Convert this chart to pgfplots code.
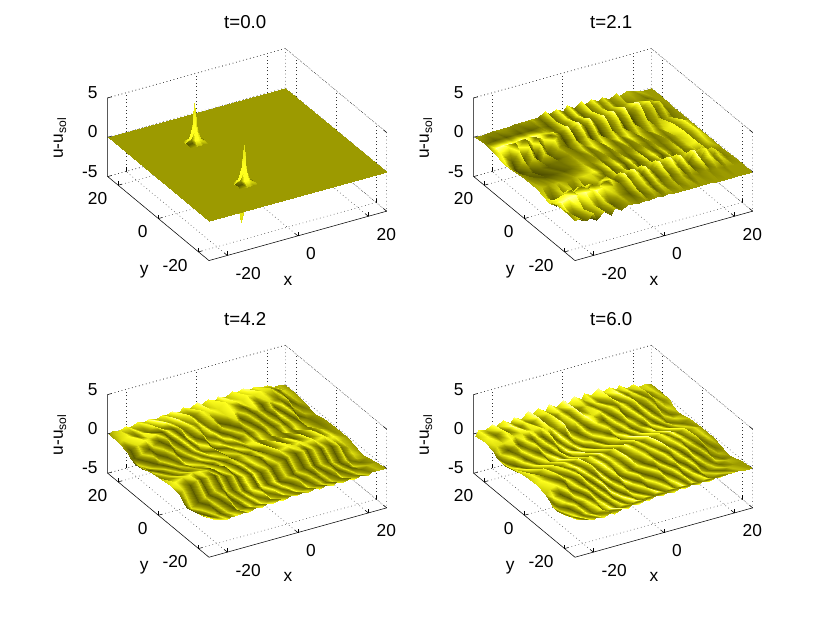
\documentclass[border=0pt]{standalone}
\usepackage{fontspec}
\setmainfont{Liberation Sans}
\usepackage{pgfplots}
\pgfplotsset{compat=1.18}
\newcommand{\backbox}{%
\draw[black!80,line width=0.4pt,dash pattern=on 0.5pt off 2.2pt] (axis cs:-25.2,25.2,5)--(axis cs:25.2,25.2,5)--(axis cs:25.2,-25.2,5) (axis cs:25.2,25.2,5)--(axis cs:25.2,25.2,-5) (axis cs:25.2,-25.2,5)--(axis cs:25.2,-25.2,-5) (axis cs:-25.2,25.2,-5)--(axis cs:25.2,25.2,-5)--(axis cs:25.2,-25.2,-5);
\draw[black,line width=0.4pt] (axis cs:-25.2,25.2,-5)--(axis cs:-25.2,25.2,5) (axis cs:-25.2,25.2,-5)--(axis cs:-25.2,-25.2,-5)--(axis cs:25.2,-25.2,-5);}
\pgfplotsset{
 colormap={lit}{rgb255(0)=(50,50,0); rgb255(3)=(115,115,0); rgb255(5)=(156,154,0); rgb255(7)=(225,225,15); rgb255(8)=(255,255,30); rgb255(9)=(255,255,150)},
 panel/.style={
  anchor=origin, clip=false,
  x={(2.644pt,0.735pt)}, y={(-1.507pt,1.250pt)}, z={(0pt,5.90pt)},
  xmin=-25.2,xmax=25.2,ymin=-25.2,ymax=25.2,zmin=-5,zmax=5,
  xtick={-20,0,20},ytick={-20,0,20},ztick={-5,0,5},
  tickpos=left,
  axis line style={draw=none},
  grid=major, grid style={black!80,line width=0.4pt,dash pattern=on 0.5pt off 2.2pt},
  tick style={black,line width=0.4pt}, tick align=inside, major tick length=3pt,
  /pgf/number format/assume math mode=true,
  ticklabel style={font=\fontsize{13}{13}\selectfont,inner sep=0pt},
  xticklabel style={anchor=west,xshift=6pt,yshift=-13.5pt},
  yticklabel style={anchor=east,xshift=-8pt,yshift=-10pt},
  zticklabel style={anchor=east,xshift=-7.5pt,yshift=4pt},
  xlabel={x},ylabel={y},zlabel={u-u\textsubscript{sol}},
  every axis x label/.style={at={([xshift=-7.4pt,yshift=-33.5pt]axis cs:0,-25.2,-5)},anchor=center,inner sep=0pt,font=\fontsize{13}{13}\selectfont},
  every axis y label/.style={at={([xshift=-10.7pt,yshift=-39.7pt]axis cs:-25.2,0,-5)},anchor=center,inner sep=0pt,font=\fontsize{13}{13}\selectfont},
  every axis z label/.style={at={([xshift=-35.8pt,yshift=-0.6pt]axis cs:-25.2,25.2,0)},anchor=center,rotate=90,inner sep=0pt,font=\fontsize{13}{13}\selectfont},
  title style={at={(axis cs:0,0,0)},anchor=center,font=\fontsize{14}{14}\selectfont,xshift=-1.5pt,yshift=93.3pt},
  point meta min=0,point meta max=9,colormap name=lit,
 },
 lit/.style={surf,shader=interp,point meta=explicit},
}
\begin{document}
\begin{tikzpicture}
\path[use as bounding box] (0,0) rectangle (622.5pt,469.5pt);
\begin{axis}[panel,at={(185.4pt,353.6pt)},title={t=0.0}]
\backbox
\addplot3[lit,mesh/cols=3] table[x=x,y=y,z=z,meta=m]{
x y z m
-12.4 -16 0 5
-11.4 -16 0 5
-10.4 -16 0 5
-12.4 -17 0 7
-11.4 -17 -3.6 7
-10.4 -17 0 6
-12.4 -18 0 8
-11.4 -18 0 8
-10.4 -18 0 6
};
\addplot3[lit,mesh/cols=2] table[x=x,y=y,z=z,meta=m]{
x y z m
-25.2 25.2 0 5
25.2 25.2 0 5
-25.2 -25.2 0 5
25.2 -25.2 0 5
};
\addplot3[lit,mesh/cols=7] table[x=x,y=y,z=z,meta=m]{
x y z m
-10.4 14.7 0 5
-9.2 14.7 0.1 5
-8.5 14.7 0.1 5
-8 14.7 0.1 5
-7.5 14.7 0.1 5
-6.8 14.7 0.1 5
-5.6 14.7 0 5
-10.4 13.5 0.1 5
-9.2 13.5 0.3 5
-8.5 13.5 0.5 4
-8 13.5 0.5 4
-7.5 13.5 0.5 3
-6.8 13.5 0.3 3
-5.6 13.5 0.1 5
-10.4 12.8 0.1 7
-9.2 12.8 0.5 8
-8.5 12.8 1.4 7
-8 12.8 2.2 6
-7.5 12.8 1.4 5
-6.8 12.8 0.5 3
-5.6 12.8 0.1 4
-10.4 12.3 0.1 2
-9.2 12.3 0.5 8
-8.5 12.3 2.2 8
-8 12.3 5 7
-7.5 12.3 2.2 5
-6.8 12.3 0.5 3
-5.6 12.3 0.1 3
-10.4 11.8 0.1 2
-9.2 11.8 0.5 4
-8.5 11.8 1.4 8
-8 11.8 2.2 8
-7.5 11.8 1.4 7
-6.8 11.8 0.5 6
-5.6 11.8 0.1 6
-10.4 11.1 0.1 2
-9.2 11.1 0.3 2
-8.5 11.1 0.5 8
-8 11.1 0.5 8
-7.5 11.1 0.5 8
-6.8 11.1 0.3 7
-5.6 11.1 0.1 6
-10.4 9.9 0 5
-9.2 9.9 0.1 5
-8.5 9.9 0.1 6
-8 9.9 0.1 6
-7.5 9.9 0.1 6
-6.8 9.9 0.1 5
-5.6 9.9 0 5
};
\addplot3[lit,mesh/cols=7] table[x=x,y=y,z=z,meta=m]{
x y z m
-10.4 -9.9 0 5
-9.2 -9.9 0.1 5
-8.5 -9.9 0.1 5
-8 -9.9 0.1 5
-7.5 -9.9 0.1 5
-6.8 -9.9 0.1 5
-5.6 -9.9 0 5
-10.4 -11.1 0.1 5
-9.2 -11.1 0.3 5
-8.5 -11.1 0.5 4
-8 -11.1 0.5 4
-7.5 -11.1 0.5 3
-6.8 -11.1 0.3 3
-5.6 -11.1 0.1 5
-10.4 -11.8 0.1 7
-9.2 -11.8 0.5 8
-8.5 -11.8 1.4 7
-8 -11.8 2.2 6
-7.5 -11.8 1.4 5
-6.8 -11.8 0.5 3
-5.6 -11.8 0.1 4
-10.4 -12.3 0.1 2
-9.2 -12.3 0.5 8
-8.5 -12.3 2.2 8
-8 -12.3 4.8 7
-7.5 -12.3 2.2 5
-6.8 -12.3 0.5 3
-5.6 -12.3 0.1 3
-10.4 -12.8 0.1 2
-9.2 -12.8 0.5 4
-8.5 -12.8 1.4 8
-8 -12.8 2.2 8
-7.5 -12.8 1.4 7
-6.8 -12.8 0.5 6
-5.6 -12.8 0.1 6
-10.4 -13.5 0.1 2
-9.2 -13.5 0.3 2
-8.5 -13.5 0.5 8
-8 -13.5 0.5 8
-7.5 -13.5 0.5 8
-6.8 -13.5 0.3 7
-5.6 -13.5 0.1 6
-10.4 -14.7 0 5
-9.2 -14.7 0.1 5
-8.5 -14.7 0.1 6
-8 -14.7 0.1 6
-7.5 -14.7 0.1 6
-6.8 -14.7 0.1 5
-5.6 -14.7 0 5
};
\end{axis}
\begin{axis}[panel,at={(459.9pt,353.6pt)},title={t=2.1}]
\backbox
\addplot3[lit,mesh/cols=31] table[x=x,y=y,z=z,meta=m]{
x y z m
-25 25 0 5
-24 25 .1 5
-22 25 .1 4
-20 25 .2 4
-19 25 .2 5
-17 25 .2 5
-15 25 .2 4
-14 25 .3 4
-12 25 .3 5
-10 25 .3 5
-9 25 .4 6
-7 25 .4 3
-5 25 .8 8
-4 25 .3 3
-2 25 .8 8
0 25 .3 3
1 25 .9 8
3 25 .3 3
5 25 .9 8
6 25 .3 3
8 25 .8 8
10 25 .3 4
11 25 .7 7
13 25 .2 4
15 25 .6 7
16 25 .2 5
18 25 .5 6
20 25 .3 5
21 25 .2 6
23 25 .1 5
25 25 0 5
-25 20 .2 4
-24 20 .2 3
-22 20 .3 2
-20 20 .3 3
-19 20 .3 2
-17 20 .4 3
-15 20 .4 2
-14 20 .4 3
-12 20 .4 2
-10 20 .5 3
-9 20 .4 4
-7 20 .2 2
-5 20 .6 7
-4 20 .1 2
-2 20 .7 8
0 20 .1 2
1 20 .7 8
3 20 .1 2
5 20 .7 8
6 20 .1 2
8 20 .7 7
10 20 .1 3
11 20 .6 7
13 20 .1 3
15 20 .5 6
16 20 .2 3
18 20 .4 5
20 20 .3 4
21 20 .3 3
23 20 .2 5
25 20 .1 5
-25 16 .1 6
-24 16 .4 9
-22 16 .6 9
-20 16 .6 9
-19 16 .6 8
-17 16 .7 9
-15 16 .7 8
-14 16 .7 9
-12 16 .7 8
-10 16 .6 7
-9 16 .6 6
-7 16 .5 3
-5 16 1 8
-4 16 .4 3
-2 16 1.1 8
0 16 .4 2
1 16 1.1 8
3 16 .4 2
5 16 1.2 8
6 16 .4 2
8 16 1.2 8
10 16 .3 2
11 16 1.3 8
13 16 .3 2
15 16 1.4 9
16 16 .3 2
18 16 1.2 8
20 16 .3 3
21 16 .8 7
23 16 .2 4
25 16 .1 5
-25 14 -.1 7
-24 14 .2 8
-22 14 .7 8
-20 14 1 3
-19 14 .3 8
-17 14 1.1 3
-15 14 .4 8
-14 14 1 3
-12 14 .5 8
-10 14 .8 3
-9 14 1 8
-7 14 .5 2
-5 14 1.3 9
-4 14 .5 2
-2 14 1.4 9
0 14 .5 2
1 14 1.5 9
3 14 .4 2
5 14 1.5 9
6 14 .3 2
8 14 1.6 9
10 14 .2 2
11 14 1.7 9
13 14 .1 1
15 14 1.8 9
16 14 0 1
18 14 1.6 8
20 14 0 2
21 14 1.2 7
23 14 -.1 3
25 14 0 5
-25 12 -.2 7
-24 12 -.4 8
-22 12 -.8 2
-20 12 .4 8
-19 12 -1 1
-17 12 .5 8
-15 12 -1 1
-14 12 .5 8
-12 12 -.8 2
-10 12 .5 8
-9 12 .9 5
-7 12 0 1
-5 12 .9 8
-4 12 0 1
-2 12 1 8
0 12 -.1 1
1 12 1.1 8
3 12 -.2 1
5 12 1.1 8
6 12 -.3 1
8 12 1.2 8
10 12 -.4 1
11 12 1.3 8
13 12 -.5 1
15 12 1.4 8
16 12 -.6 1
18 12 1.3 7
20 12 -.5 2
21 12 .9 7
23 12 -.3 3
25 12 0 5
-25 10 -.3 7
-24 10 -.9 7
-22 10 -1.6 1
-20 10 -.3 7
-19 10 -2 1
-17 10 -.3 7
-15 10 -1.9 1
-14 10 -.2 7
-12 10 -1.3 1
-10 10 0 6
-9 10 .2 4
-7 10 -.3 2
-5 10 .3 7
-4 10 -.4 2
-2 10 .3 7
0 10 -.5 1
1 10 .4 7
3 10 -.6 1
5 10 .4 7
6 10 -.7 1
8 10 .4 7
10 10 -.8 1
11 10 .5 7
13 10 -.9 1
15 10 .5 7
16 10 -1 1
18 10 .4 6
20 10 -.8 2
21 10 .2 6
23 10 -.5 3
25 10 0 5
-25 6 -.2 5
-24 6 -.6 4
-22 6 -1.2 2
-20 6 -1 3
-19 6 -1.4 1
-17 6 -.9 3
-15 6 -1 2
-14 6 -.6 3
-12 6 -.6 3
-10 6 -.2 4
-9 6 -.1 5
-7 6 .1 3
-5 6 -.1 7
-4 6 .2 3
-2 6 -.1 8
0 6 .2 3
1 6 -.1 8
3 6 .2 3
5 6 -.1 8
6 6 .2 3
8 6 -.1 8
10 6 .1 3
11 6 -.2 7
13 6 .1 3
15 6 -.3 7
16 6 .1 4
18 6 -.4 7
20 6 .2 8
21 6 -.6 2
23 6 .4 8
25 6 0 5
-25 0 0 5
-24 0 -.1 4
-22 0 -.3 3
-20 0 -.4 2
-19 0 -.5 2
-17 0 -.4 2
-15 0 -.4 3
-14 0 -.3 2
-12 0 -.2 3
-10 0 -.1 5
-9 0 0 6
-7 0 .1 4
-5 0 .2 5
-4 0 .1 3
-2 0 .2 5
0 0 .1 3
1 0 .2 5
3 0 .1 3
5 0 .2 5
6 0 .1 3
8 0 .2 5
10 0 .1 3
11 0 .2 5
13 0 .1 3
15 0 .2 5
16 0 .1 3
18 0 .1 6
20 0 .5 8
21 0 -.3 2
23 0 .6 8
25 0 0 5
-25 -6 0 6
-24 -6 .1 6
-22 -6 .1 5
-20 -6 0 6
-19 -6 .1 6
-17 -6 0 5
-15 -6 0 5
-14 -6 .1 6
-12 -6 .1 7
-10 -6 .2 7
-9 -6 .3 8
-7 -6 .2 3
-5 -6 .3 8
-4 -6 .1 2
-2 -6 .3 8
0 -6 .1 2
1 -6 .4 8
3 -6 .1 2
5 -6 .4 8
6 -6 .1 2
8 -6 .4 8
10 -6 .1 2
11 -6 .4 7
13 -6 .1 3
15 -6 .4 7
16 -6 .1 3
18 -6 .3 7
20 -6 .5 8
21 -6 -.4 2
23 -6 .3 7
25 -6 0 5
-25 -10 -.3 7
-24 -10 -1 7
-22 -10 -1.7 1
-20 -10 -.3 7
-19 -10 -2.1 1
-17 -10 -.4 7
-15 -10 -1.8 1
-14 -10 -.2 7
-12 -10 -1.2 1
-10 -10 0 6
-9 -10 .2 4
-7 -10 -.3 2
-5 -10 .3 7
-4 -10 -.4 2
-2 -10 .4 7
0 -10 -.5 1
1 -10 .4 7
3 -10 -.6 1
5 -10 .5 7
6 -10 -.7 1
8 -10 .5 7
10 -10 -.8 1
11 -10 .5 7
13 -10 -.9 1
15 -10 .5 7
16 -10 -1 1
18 -10 .4 6
20 -10 -.8 2
21 -10 .2 6
23 -10 -.5 3
25 -10 0 5
-25 -12 -.2 7
-24 -12 -.3 8
-22 -12 -.8 2
-20 -12 .5 8
-19 -12 -.9 1
-17 -12 .5 8
-15 -12 -1 1
-14 -12 .6 8
-12 -12 -.7 2
-10 -12 .5 8
-9 -12 .9 5
-7 -12 0 1
-5 -12 1 8
-4 -12 0 1
-2 -12 1 8
0 -12 -.1 1
1 -12 1.1 8
3 -12 -.2 1
5 -12 1.2 8
6 -12 -.3 1
8 -12 1.2 8
10 -12 -.4 1
11 -12 1.3 8
13 -12 -.5 1
15 -12 1.3 8
16 -12 -.6 1
18 -12 1.2 7
20 -12 -.5 2
21 -12 .9 7
23 -12 -.3 3
25 -12 0 5
-25 -14 -.1 7
-24 -14 .2 8
-22 -14 .7 8
-20 -14 1 3
-19 -14 .4 8
-17 -14 1.1 3
-15 -14 .4 8
-14 -14 1 3
-12 -14 .5 8
-10 -14 .8 3
-9 -14 1 8
-7 -14 .5 2
-5 -14 1.3 9
-4 -14 .5 2
-2 -14 1.4 9
0 -14 .5 2
1 -14 1.4 9
3 -14 .4 2
5 -14 1.5 9
6 -14 .3 2
8 -14 1.6 9
10 -14 .2 2
11 -14 1.6 9
13 -14 .1 1
15 -14 1.7 9
16 -14 0 1
18 -14 1.5 8
20 -14 0 2
21 -14 1.1 7
23 -14 -.1 3
25 -14 0 5
-25 -16 .1 6
-24 -16 .4 9
-22 -16 .6 9
-20 -16 .7 9
-19 -16 .6 8
-17 -16 .7 9
-15 -16 .7 8
-14 -16 .6 9
-12 -16 .7 8
-10 -16 .6 7
-9 -16 .5 6
-7 -16 .5 3
-5 -16 1 8
-4 -16 .4 3
-2 -16 1 8
0 -16 .4 2
1 -16 1.1 8
3 -16 .4 2
5 -16 1.1 8
6 -16 .4 2
8 -16 1.2 8
10 -16 .3 2
11 -16 1.2 8
13 -16 .3 2
15 -16 1.3 9
16 -16 .3 2
18 -16 1.1 8
20 -16 .3 3
21 -16 .7 7
23 -16 .2 4
25 -16 .1 5
-25 -20 .2 4
-24 -20 -.4 7
-22 -20 -1.2 1
-20 -20 -.2 7
-19 -20 -1.3 1
-17 -20 -.1 7
-15 -20 -1 2
-14 -20 .1 7
-12 -20 -.5 2
-10 -20 .3 6
-9 -20 .3 4
-7 -20 .2 2
-5 -20 .5 7
-4 -20 .1 2
-2 -20 .6 7
0 -20 .1 2
1 -20 .6 7
3 -20 .1 3
5 -20 .5 6
6 -20 .1 3
8 -20 .5 6
10 -20 .1 3
11 -20 .4 5
13 -20 .1 4
15 -20 .4 5
16 -20 .1 4
18 -20 .3 5
20 -20 .2 4
21 -20 .2 5
23 -20 .1 5
25 -20 .1 5
-25 -25 0 5
-24 -25 .2 7
-22 -25 -.4 2
-20 -25 .3 7
-19 -25 -.6 1
-17 -25 .2 7
-15 -25 -.5 2
-14 -25 .3 6
-12 -25 -.3 3
-10 -25 .2 5
-9 -25 .1 5
-7 -25 0 4
-5 -25 .1 5
-4 -25 0 4
-2 -25 .1 5
0 -25 0 4
1 -25 .1 5
3 -25 0 5
5 -25 .1 5
6 -25 0 5
8 -25 .1 5
10 -25 0 5
11 -25 .1 5
13 -25 0 5
15 -25 0 5
16 -25 0 5
18 -25 0 5
20 -25 0 5
21 -25 0 5
23 -25 0 5
25 -25 0 5
};
\end{axis}
\begin{axis}[panel,at={(185.4pt,131.1pt)},title={t=4.2}]
\backbox
\addplot3[lit,mesh/cols=31] table[x=x,y=y,z=z,meta=m]{
x y z m
-25 25 0 5
-24 25 .2 6
-22 25 .1 7
-20 25 .4 8
-19 25 .2 6
-17 25 .5 8
-15 25 .3 6
-14 25 .6 9
-12 25 .3 6
-10 25 .6 8
-9 25 .4 6
-7 25 .7 9
-5 25 .3 6
-4 25 .8 8
-2 25 .4 6
0 25 .9 9
1 25 .5 6
3 25 1 8
5 25 .6 6
6 25 1 9
8 25 .6 6
10 25 1.1 8
11 25 .8 7
13 25 1.1 9
15 25 .8 6
16 25 .9 8
18 25 .6 7
20 25 .6 7
21 25 .3 5
23 25 .2 6
25 25 0 5
-25 20 -.1 6
-24 20 .2 7
-22 20 .4 8
-20 20 .2 3
-19 20 .6 8
-17 20 .3 3
-15 20 .8 8
-14 20 .4 4
-12 20 1 9
-10 20 .6 5
-9 20 1.1 9
-7 20 .6 5
-5 20 1 8
-4 20 .7 3
-2 20 1.2 8
0 20 .7 7
1 20 .9 8
3 20 .8 7
5 20 1.4 8
6 20 1.1 7
8 20 1.2 8
10 20 1 7
11 20 1.5 8
13 20 1.3 7
15 20 1.6 8
16 20 1.4 7
18 20 1.5 7
20 20 1.1 2
21 20 1 7
23 20 .5 6
25 20 .1 5
-25 16 -.4 4
-24 16 -.3 2
-22 16 .1 7
-20 16 .5 8
-19 16 .7 7
-17 16 .9 8
-15 16 .9 2
-14 16 1.1 8
-12 16 .9 2
-10 16 .8 7
-9 16 .5 3
-7 16 .8 8
-5 16 .4 4
-4 16 .5 8
-2 16 0 3
0 16 .3 7
1 16 .1 2
3 16 .8 7
5 16 1 8
6 16 1 7
8 16 1.2 2
10 16 1 7
11 16 1.1 8
13 16 1 2
15 16 1.1 7
16 16 1 7
18 16 1 3
20 16 .9 7
21 16 .5 2
23 16 .3 6
25 16 -.1 5
-25 14 -.8 3
-24 14 -.9 2
-22 14 -.6 7
-20 14 -.2 2
-19 14 .1 7
-17 14 .4 2
-15 14 .6 7
-14 14 .4 2
-12 14 .3 8
-10 14 .1 2
-9 14 0 8
-7 14 -.3 2
-5 14 0 7
-4 14 -.5 3
-2 14 -.3 8
0 14 -.5 2
1 14 -.2 7
3 14 0 2
5 14 .4 7
6 14 .5 2
8 14 .8 7
10 14 .7 2
11 14 .9 7
13 14 .7 2
15 14 .7 7
16 14 .6 2
18 14 .7 8
20 14 .3 2
21 14 .1 6
23 14 -.1 3
25 14 -.2 5
-25 12 -1 2
-24 12 -1.3 7
-22 12 -1 2
-20 12 -.7 7
-19 12 -.5 2
-17 12 -.2 7
-15 12 0 2
-14 12 -.2 7
-12 12 -.3 2
-10 12 -.5 8
-9 12 -.4 2
-7 12 -.8 8
-5 12 -.5 2
-4 12 -.9 7
-2 12 -.6 3
0 12 -.8 8
1 12 -.5 2
3 12 -.4 7
5 12 -.2 2
6 12 0 7
8 12 .1 2
10 12 .1 7
11 12 .2 2
13 12 .1 7
15 12 .1 2
16 12 .2 8
18 12 0 2
20 12 -.2 7
21 12 -.5 2
23 12 -.5 6
25 12 -.4 4
-25 10 -.9 6
-24 10 -1.4 2
-22 10 -1.5 7
-20 10 -1.3 2
-19 10 -1 7
-17 10 -.8 2
-15 10 -.6 7
-14 10 -.8 2
-12 10 -.9 7
-10 10 -1 3
-9 10 -.8 8
-7 10 -1.2 3
-5 10 -.8 8
-4 10 -1.2 2
-2 10 -.9 8
0 10 -1.1 3
1 10 -.7 8
3 10 -.8 2
5 10 -.6 7
6 10 -.6 2
8 10 -.5 7
10 10 -.5 2
11 10 -.4 7
13 10 -.5 2
15 10 -.5 7
16 10 -.5 2
18 10 -.7 7
20 10 -.7 2
21 10 -.9 6
23 10 -.8 3
25 10 -.5 5
-25 6 -.5 5
-24 6 -.9 7
-22 6 -1 2
-20 6 -1 7
-19 6 -.8 2
-17 6 -.9 7
-15 6 -1 3
-14 6 -1.1 8
-12 6 -.9 3
-10 6 -1 8
-9 6 -.7 3
-7 6 -.9 8
-5 6 -.6 3
-4 6 -.9 7
-2 6 -.6 3
0 6 -.8 8
1 6 -.5 3
3 6 -.7 7
5 6 -.6 8
6 6 -.5 3
8 6 -.8 8
10 6 -.5 3
11 6 -.8 7
13 6 -.5 3
15 6 -.9 8
16 6 -.5 3
18 6 -.9 8
20 6 -.6 3
21 6 -.8 7
23 6 -.4 3
25 6 -.2 5
-25 0 -.3 6
-24 0 -.5 3
-22 0 -.4 7
-20 0 -.5 3
-19 0 -.3 7
-17 0 -.4 3
-15 0 -.3 6
-14 0 -.4 3
-12 0 -.2 7
-10 0 -.4 2
-9 0 -.1 7
-7 0 -.4 2
-5 0 -.2 7
-4 0 -.5 2
-2 0 -.1 7
0 0 -.4 2
1 0 0 7
3 0 -.3 2
5 0 .2 8
6 0 -.2 2
8 0 .3 8
10 0 -.1 2
11 0 .3 8
13 0 0 2
15 0 .3 8
16 0 -.1 2
18 0 .4 8
20 0 0 3
21 0 .2 7
23 0 -.1 4
25 0 0 5
-25 -6 0 7
-24 -6 .4 8
-22 -6 .7 7
-20 -6 .8 8
-19 -6 1 7
-17 -6 .9 8
-15 -6 .7 7
-14 -6 .9 2
-12 -6 .4 8
-10 -6 .6 2
-9 -6 .2 8
-7 -6 .4 2
-5 -6 .1 8
-4 -6 .3 3
-2 -6 .2 8
0 -6 .5 2
1 -6 .5 8
3 -6 .6 3
5 -6 .9 8
6 -6 .7 7
8 -6 1 8
10 -6 .8 7
11 -6 1.1 8
13 -6 .8 7
15 -6 1 8
16 -6 .7 7
18 -6 .9 8
20 -6 .5 7
21 -6 .6 8
23 -6 .2 6
25 -6 0 5
-25 -10 -.2 4
-24 -10 .2 7
-22 -10 .6 2
-20 -10 .9 7
-19 -10 1 2
-17 -10 1 7
-15 -10 1 2
-14 -10 .8 7
-12 -10 .5 2
-10 -10 .3 7
-9 -10 .1 2
-7 -10 -.1 8
-5 -10 -.1 2
-4 -10 -.2 8
-2 -10 -.3 2
0 -10 -.2 7
1 -10 0 2
3 -10 .2 7
5 -10 .5 2
6 -10 .7 7
8 -10 .9 2
10 -10 .9 7
11 -10 1 2
13 -10 .8 7
15 -10 .7 2
16 -10 .7 7
18 -10 .5 2
20 -10 .4 7
21 -10 .1 3
23 -10 -.2 6
25 -10 -.3 5
-25 -12 -.8 3
-24 -12 -.6 7
-22 -12 -.1 2
-20 -12 .2 7
-19 -12 .5 2
-17 -12 .4 7
-15 -12 .5 2
-14 -12 .2 7
-12 -12 -.1 2
-10 -12 -.3 7
-9 -12 -.4 2
-7 -12 -.6 8
-5 -12 -.5 2
-4 -12 -.6 8
-2 -12 -.7 2
0 -12 -.5 7
1 -12 -.5 2
3 -12 -.2 7
5 -12 0 2
6 -12 .2 7
8 -12 .3 2
10 -12 .3 7
11 -12 .4 2
13 -12 .2 7
15 -12 .2 2
16 -12 .2 7
18 -12 -.1 2
20 -12 -.2 7
21 -12 -.5 3
23 -12 -.6 7
25 -12 -.5 5
-25 -14 -1.1 2
-24 -14 -1.2 7
-22 -14 -.7 2
-20 -14 -.4 7
-19 -14 -.1 2
-17 -14 0 7
-15 -14 0 2
-14 -14 -.3 7
-12 -14 -.5 2
-10 -14 -.8 7
-9 -14 -.9 2
-7 -14 -1 8
-5 -14 -.9 2
-4 -14 -1 8
-2 -14 -1 2
0 -14 -.9 8
1 -14 -.9 2
3 -14 -.6 7
5 -14 -.5 2
6 -14 -.3 7
8 -14 -.2 2
10 -14 -.2 7
11 -14 -.2 2
13 -14 -.3 7
15 -14 -.3 2
16 -14 -.4 7
18 -14 -.6 2
20 -14 -.7 7
21 -14 -.8 3
23 -14 -.7 6
25 -14 -.6 5
-25 -16 -1 6
-24 -16 -1.4 2
-22 -16 -1.3 7
-20 -16 -1 2
-19 -16 -.7 7
-17 -16 -.6 2
-15 -16 -.6 7
-14 -16 -.8 2
-12 -16 -1 7
-10 -16 -1.2 3
-9 -16 -1.2 8
-7 -16 -1.4 3
-5 -16 -1.2 8
-4 -16 -1.3 3
-2 -16 -1.2 8
0 -16 -1.3 3
1 -16 -1.1 8
3 -16 -1 2
5 -16 -.8 7
6 -16 -.8 2
8 -16 -.6 7
10 -16 -.7 2
11 -16 -.6 7
13 -16 -.8 2
15 -16 -.8 7
16 -16 -.9 2
18 -16 -1 7
20 -16 -1.1 2
21 -16 -1.1 7
23 -16 -.8 3
25 -16 -.5 5
-25 -20 -.6 7
-24 -20 -1 5
-22 -20 -1.3 2
-20 -20 -1.4 7
-19 -20 -1.2 2
-17 -20 -1.4 7
-15 -20 -1.3 2
-14 -20 -1.5 7
-12 -20 -1.4 2
-10 -20 -1.6 8
-9 -20 -1.3 3
-7 -20 -1.6 8
-5 -20 -1.2 3
-4 -20 -1.5 8
-2 -20 -1.1 3
0 -20 -1.4 8
1 -20 -1 3
3 -20 -1.3 8
5 -20 -1 3
6 -20 -1.2 8
8 -20 -1 3
10 -20 -1.2 7
11 -20 -1 3
13 -20 -1.3 7
15 -20 -1 3
16 -20 -1.3 8
18 -20 -.9 3
20 -20 -1.1 7
21 -20 -.6 3
23 -20 -.4 6
25 -20 -.2 5
-25 -25 0 7
-24 -25 -.3 8
-22 -25 -.6 7
-20 -25 -.8 8
-19 -25 -.7 4
-17 -25 -.7 8
-15 -25 -.5 4
-14 -25 -.7 8
-12 -25 -.4 4
-10 -25 -.6 8
-9 -25 -.3 4
-7 -25 -.4 8
-5 -25 -.2 4
-4 -25 -.4 8
-2 -25 -.1 4
0 -25 -.3 8
1 -25 -.1 3
3 -25 -.3 7
5 -25 0 4
6 -25 -.2 8
8 -25 0 3
10 -25 -.2 8
11 -25 0 3
13 -25 -.2 7
15 -25 0 3
16 -25 -.2 8
18 -25 0 3
20 -25 -.2 7
21 -25 .1 4
23 -25 0 6
25 -25 0 5
};
\end{axis}
\begin{axis}[panel,at={(459.9pt,131.1pt)},title={t=6.0}]
\backbox
\addplot3[lit,mesh/cols=31] table[x=x,y=y,z=z,meta=m]{
x y z m
-25 25 -.2 6
-24 25 .4 8
-22 25 .1 6
-20 25 .7 9
-19 25 .3 6
-17 25 .8 8
-15 25 .2 5
-14 25 .8 9
-12 25 .3 6
-10 25 1 9
-9 25 .4 6
-7 25 1.1 8
-5 25 .5 6
-4 25 1.2 9
-2 25 .6 6
0 25 1.2 9
1 25 .6 7
3 25 1.4 9
5 25 .7 6
6 25 1.3 8
8 25 .8 7
10 25 1.5 9
11 25 .9 7
13 25 1.3 8
15 25 .7 6
16 25 1.1 8
18 25 .5 6
20 25 .8 8
21 25 .3 6
23 25 .4 7
25 25 .1 5
-25 20 .1 7
-24 20 .5 8
-22 20 .6 3
-20 20 1 8
-19 20 .7 3
-17 20 1.1 9
-15 20 .7 3
-14 20 1.2 8
-12 20 .8 3
-10 20 1.3 9
-9 20 .8 3
-7 20 1.5 8
-5 20 .9 3
-4 20 1.3 8
-2 20 1 3
0 20 1.4 9
1 20 1 3
3 20 1.2 7
5 20 1 3
6 20 1.3 8
8 20 1 3
10 20 1.5 8
11 20 1.1 3
13 20 1.6 9
15 20 1.2 3
16 20 1.4 8
18 20 1 3
20 20 1 7
21 20 .6 3
23 20 .6 7
25 20 .2 5
-25 16 -.3 5
-24 16 .2 7
-22 16 .4 7
-20 16 .7 8
-19 16 .9 7
-17 16 1 7
-15 16 1.1 8
-14 16 1.1 7
-12 16 1.2 8
-10 16 .7 7
-9 16 .8 8
-7 16 .3 4
-5 16 .8 9
-4 16 .1 3
-2 16 .7 8
0 16 .2 3
1 16 .9 9
3 16 .8 7
5 16 1.1 8
6 16 1.1 3
8 16 1.3 8
10 16 1.2 3
11 16 1.4 8
13 16 1.1 3
15 16 1.2 8
16 16 1 3
18 16 1.1 7
20 16 .8 3
21 16 .6 7
23 16 .2 4
25 16 .1 6
-25 14 -.7 3
-24 14 -.3 7
-22 14 -.1 2
-20 14 .3 7
-19 14 .3 2
-17 14 .6 8
-15 14 .5 2
-14 14 .7 8
-12 14 .3 2
-10 14 .3 8
-9 14 -.1 2
-7 14 -.2 9
-5 14 -.4 2
-4 14 -.5 8
-2 14 -.4 2
0 14 -.4 8
1 14 -.1 2
3 14 .2 8
5 14 .4 2
6 14 .7 8
8 14 .5 2
10 14 .8 8
11 14 .4 2
13 14 .7 8
15 14 .3 2
16 14 .6 8
18 14 .1 2
20 14 .2 7
21 14 -.1 3
23 14 -.2 7
25 14 -.3 6
-25 12 -.8 7
-24 12 -.9 3
-22 12 -.6 8
-20 12 -.5 3
-19 12 -.2 8
-17 12 -.1 3
-15 12 .1 8
-14 12 -.1 3
-12 12 -.1 8
-10 12 -.4 3
-9 12 -.5 8
-7 12 -.9 3
-5 12 -1 8
-4 12 -1 3
-2 12 -1 8
0 12 -.8 3
1 12 -.6 8
3 12 -.4 3
5 12 -.1 8
6 12 0 3
8 12 .1 8
10 12 -.1 3
11 12 0 8
13 12 -.1 3
15 12 -.1 8
16 12 -.2 3
18 12 -.3 8
20 12 -.5 3
21 12 -.6 7
23 12 -.7 3
25 12 -.5 6
-25 10 -.9 3
-24 10 -1.1 8
-22 10 -1.2 2
-20 10 -1 8
-19 10 -.8 2
-17 10 -.6 8
-15 10 -.5 2
-14 10 -.6 8
-12 10 -.7 2
-10 10 -.9 8
-9 10 -1.1 2
-7 10 -1.2 9
-5 10 -1.3 2
-4 10 -1.2 9
-2 10 -1.3 2
0 10 -1 8
1 10 -1 2
3 10 -.7 8
5 10 -.6 2
6 10 -.5 8
8 10 -.5 2
10 10 -.5 8
11 10 -.5 2
13 10 -.5 7
15 10 -.6 2
16 10 -.7 8
18 10 -.8 2
20 10 -.9 7
21 10 -1 3
23 10 -.8 7
25 10 -.5 5
-25 6 -.4 7
-24 6 -.9 3
-22 6 -.8 8
-20 6 -1 3
-19 6 -.7 8
-17 6 -.9 3
-15 6 -.7 8
-14 6 -1 3
-12 6 -.8 9
-10 6 -1 3
-9 6 -.9 8
-7 6 -1.1 3
-5 6 -.8 9
-4 6 -1 3
-2 6 -.8 8
0 6 -1 3
1 6 -.6 8
3 6 -.8 3
5 6 -.4 8
6 6 -.6 3
8 6 -.3 9
10 6 -.6 3
11 6 -.3 8
13 6 -.7 3
15 6 -.4 9
16 6 -.7 3
18 6 -.5 8
20 6 -.8 3
21 6 -.6 7
23 6 -.5 3
25 6 -.2 6
-25 0 -.1 6
-24 0 .2 8
-22 0 -.1 3
-20 0 .3 8
-19 0 0 3
-17 0 .4 8
-15 0 0 3
-14 0 .4 8
-12 0 .1 3
-10 0 .4 9
-9 0 0 3
-7 0 .2 8
-5 0 0 3
-4 0 .3 9
-2 0 0 3
0 0 .4 8
1 0 .1 3
3 0 .5 9
5 0 .3 3
6 0 .7 8
8 0 .3 3
10 0 .7 9
11 0 .3 3
13 0 .7 8
15 0 .3 3
16 0 .6 9
18 0 .2 3
20 0 .5 8
21 0 .1 4
23 0 .2 7
25 0 0 5
-25 -6 .1 7
-24 -6 .6 8
-22 -6 .7 3
-20 -6 1 8
-19 -6 .9 3
-17 -6 1.1 8
-15 -6 .9 3
-14 -6 1 9
-12 -6 .7 3
-10 -6 .9 8
-9 -6 .5 3
-7 -6 .7 9
-5 -6 .4 3
-4 -6 .7 8
-2 -6 .5 3
0 -6 .8 9
1 -6 .6 3
3 -6 1 8
5 -6 .9 3
6 -6 1.2 8
8 -6 .9 3
10 -6 1.2 9
11 -6 1 3
13 -6 1.1 8
15 -6 .9 3
16 -6 1 8
18 -6 .7 3
20 -6 .7 7
21 -6 .3 3
23 -6 .3 7
25 -6 0 5
-25 -10 -.2 6
-24 -10 .3 7
-22 -10 .6 8
-20 -10 .8 2
-19 -10 1 8
-17 -10 .8 2
-15 -10 .9 8
-14 -10 .6 2
-12 -10 .5 8
-10 -10 .1 2
-9 -10 .1 9
-7 -10 -.3 2
-5 -10 -.1 8
-4 -10 -.4 2
-2 -10 -.1 8
0 -10 -.3 2
1 -10 .2 8
3 -10 .2 2
5 -10 .6 8
6 -10 .6 2
8 -10 .9 8
10 -10 .7 2
11 -10 .9 8
13 -10 .6 2
15 -10 .7 8
16 -10 .4 2
18 -10 .4 7
20 -10 .1 2
21 -10 0 6
23 -10 -.2 3
25 -10 -.3 5
-25 -12 -.6 3
-24 -12 -.3 8
-22 -12 -.2 2
-20 -12 .1 8
-19 -12 .1 2
-17 -12 .3 8
-15 -12 .1 2
-14 -12 .2 8
-12 -12 -.1 2
-10 -12 -.3 9
-9 -12 -.5 2
-7 -12 -.6 8
-5 -12 -.7 2
-4 -12 -.6 9
-2 -12 -.7 2
0 -12 -.4 8
1 -12 -.3 2
3 -12 0 8
5 -12 .1 2
6 -12 .3 8
8 -12 .1 2
10 -12 .2 8
11 -12 .1 2
13 -12 .2 8
15 -12 0 2
16 -12 0 8
18 -12 -.2 2
20 -12 -.3 7
21 -12 -.5 3
23 -12 -.5 6
25 -12 -.5 5
-25 -14 -1 7
-24 -14 -1 3
-22 -14 -.7 8
-20 -14 -.6 2
-19 -14 -.3 8
-17 -14 -.2 2
-15 -14 -.2 8
-14 -14 -.4 2
-12 -14 -.6 8
-10 -14 -.9 2
-9 -14 -1 9
-7 -14 -1.2 2
-5 -14 -1.1 8
-4 -14 -1.2 2
-2 -14 -1 8
0 -14 -1 2
1 -14 -.7 8
3 -14 -.5 2
5 -14 -.2 8
6 -14 -.3 2
8 -14 -.2 8
10 -14 -.3 2
11 -14 -.3 8
13 -14 -.4 2
15 -14 -.5 8
16 -14 -.6 2
18 -14 -.8 7
20 -14 -.9 3
21 -14 -.8 7
23 -14 -.7 3
25 -14 -.6 5
-25 -16 -1.1 3
-24 -16 -1.2 7
-22 -16 -1.1 2
-20 -16 -1 8
-19 -16 -.8 2
-17 -16 -.7 8
-15 -16 -.8 2
-14 -16 -.9 8
-12 -16 -1.2 2
-10 -16 -1.3 8
-9 -16 -1.5 2
-7 -16 -1.4 9
-5 -16 -1.6 2
-4 -16 -1.4 8
-2 -16 -1.5 2
0 -16 -1.2 8
1 -16 -1.3 2
3 -16 -.9 8
5 -16 -.9 2
6 -16 -.7 8
8 -16 -.8 2
10 -16 -.7 8
11 -16 -.9 2
13 -16 -.9 8
15 -16 -1.1 2
16 -16 -1.2 7
18 -16 -1.3 3
20 -16 -1.1 7
21 -16 -.9 3
23 -16 -.6 6
25 -16 -.4 5
-25 -20 -.7 7
-24 -20 -1 3
-22 -20 -1.3 8
-20 -20 -1.4 3
-19 -20 -1.3 8
-17 -20 -1.5 3
-15 -20 -1.3 8
-14 -20 -1.6 3
-12 -20 -1.5 9
-10 -20 -1.7 3
-9 -20 -1.4 8
-7 -20 -1.6 3
-5 -20 -1.3 9
-4 -20 -1.5 3
-2 -20 -1.2 8
0 -20 -1.3 3
1 -20 -1 9
3 -20 -1.2 3
5 -20 -1 8
6 -20 -1.2 3
8 -20 -1 9
10 -20 -1.2 3
11 -20 -1 8
13 -20 -1.3 3
15 -20 -1 8
16 -20 -1.1 3
18 -20 -.8 7
20 -20 -.7 3
21 -20 -.4 6
23 -20 -.2 5
25 -20 -.1 5
-25 -25 -.1 6
-24 -25 -.4 8
-22 -25 -.6 3
-20 -25 -.9 8
-19 -25 -.7 4
-17 -25 -1 8
-15 -25 -.6 4
-14 -25 -.9 8
-12 -25 -.5 4
-10 -25 -.7 8
-9 -25 -.3 4
-7 -25 -.5 9
-5 -25 -.2 4
-4 -25 -.4 8
-2 -25 0 4
0 -25 -.3 8
1 -25 0 4
3 -25 -.2 8
5 -25 .1 4
6 -25 -.1 8
8 -25 .1 4
10 -25 -.1 8
11 -25 .1 4
13 -25 -.1 8
15 -25 .2 4
16 -25 0 8
18 -25 .2 4
20 -25 .1 7
21 -25 .2 5
23 -25 .1 6
25 -25 0 5
};
\end{axis}
\end{tikzpicture}
\end{document}
